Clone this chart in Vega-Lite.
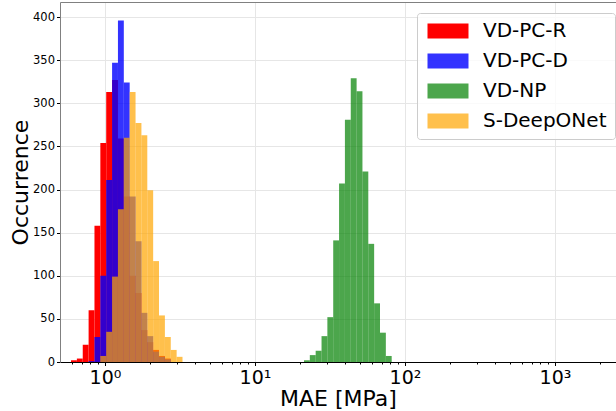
{
  "$schema": "https://vega.github.io/schema/vega-lite/v6.json",
  "width": 556,
  "height": 360,
  "autosize": {"type": "none"},
  "padding": {"left": 60, "top": 2, "right": 0, "bottom": 49},
  "config": {
    "view": {"stroke": null},
    "font": "DejaVu Sans",
    "axis": {
      "labelFont": "DejaVu Sans",
      "titleFont": "DejaVu Sans",
      "labelColor": "black",
      "titleColor": "black",
      "titleFontWeight": "normal",
      "tickColor": "black",
      "gridColor": "#e6e6e6",
      "gridWidth": 1
    },
    "legend": {
      "labelFont": "DejaVu Sans",
      "labelFontSize": 20,
      "labelColor": "black",
      "symbolType": "M-2.733,-1H2.733V1H-2.733Z",
      "symbolSize": 225,
      "symbolStrokeWidth": 0,
      "symbolOffset": 13,
      "labelOffset": 25,
      "padding": 8,
      "rowPadding": 10,
      "strokeColor": "#cccccc",
      "fillColor": "rgba(255,255,255,0.8)",
      "cornerRadius": 3
    }
  },
  "data": {
    "values": [
      {"s": "VD-PC-R", "lo": 0.5935, "hi": 0.6494, "n": 2},
      {"s": "VD-PC-R", "lo": 0.6494, "hi": 0.7106, "n": 4},
      {"s": "VD-PC-R", "lo": 0.7106, "hi": 0.7775, "n": 20},
      {"s": "VD-PC-R", "lo": 0.7775, "hi": 0.8508, "n": 60},
      {"s": "VD-PC-R", "lo": 0.8508, "hi": 0.9311, "n": 158},
      {"s": "VD-PC-R", "lo": 0.9311, "hi": 1.0189, "n": 254},
      {"s": "VD-PC-R", "lo": 1.0189, "hi": 1.1149, "n": 313},
      {"s": "VD-PC-R", "lo": 1.1149, "hi": 1.2200, "n": 327},
      {"s": "VD-PC-R", "lo": 1.2200, "hi": 1.3350, "n": 259},
      {"s": "VD-PC-R", "lo": 1.3350, "hi": 1.4608, "n": 192},
      {"s": "VD-PC-R", "lo": 1.4608, "hi": 1.5985, "n": 100},
      {"s": "VD-PC-R", "lo": 1.5985, "hi": 1.7492, "n": 80},
      {"s": "VD-PC-R", "lo": 1.7492, "hi": 1.9141, "n": 37},
      {"s": "VD-PC-R", "lo": 1.9141, "hi": 2.0946, "n": 23},
      {"s": "VD-PC-R", "lo": 2.0946, "hi": 2.2920, "n": 14},
      {"s": "VD-PC-R", "lo": 2.2920, "hi": 2.5081, "n": 7},
      {"s": "VD-PC-R", "lo": 2.5081, "hi": 2.7445, "n": 4},
      {"s": "VD-PC-D", "lo": 0.7775, "hi": 0.8508, "n": 1},
      {"s": "VD-PC-D", "lo": 0.8508, "hi": 0.9311, "n": 29},
      {"s": "VD-PC-D", "lo": 0.9311, "hi": 1.0189, "n": 100},
      {"s": "VD-PC-D", "lo": 1.0189, "hi": 1.1149, "n": 211},
      {"s": "VD-PC-D", "lo": 1.1149, "hi": 1.2200, "n": 347},
      {"s": "VD-PC-D", "lo": 1.2200, "hi": 1.3350, "n": 396},
      {"s": "VD-PC-D", "lo": 1.3350, "hi": 1.4608, "n": 324},
      {"s": "VD-PC-D", "lo": 1.4608, "hi": 1.5985, "n": 192},
      {"s": "VD-PC-D", "lo": 1.5985, "hi": 1.7492, "n": 140},
      {"s": "VD-PC-D", "lo": 1.7492, "hi": 1.9141, "n": 57},
      {"s": "VD-PC-D", "lo": 1.9141, "hi": 2.0946, "n": 30},
      {"s": "VD-PC-D", "lo": 2.0946, "hi": 2.2920, "n": 12},
      {"s": "VD-PC-D", "lo": 2.2920, "hi": 2.5081, "n": 6},
      {"s": "VD-PC-D", "lo": 2.5081, "hi": 2.7445, "n": 3},
      {"s": "VD-NP", "lo": 21.21, "hi": 23.20, "n": 2},
      {"s": "VD-NP", "lo": 23.20, "hi": 25.38, "n": 8},
      {"s": "VD-NP", "lo": 25.38, "hi": 27.77, "n": 13},
      {"s": "VD-NP", "lo": 27.77, "hi": 30.37, "n": 30},
      {"s": "VD-NP", "lo": 30.37, "hi": 33.22, "n": 52},
      {"s": "VD-NP", "lo": 33.22, "hi": 36.34, "n": 141},
      {"s": "VD-NP", "lo": 36.34, "hi": 39.76, "n": 207},
      {"s": "VD-NP", "lo": 39.76, "hi": 43.49, "n": 281},
      {"s": "VD-NP", "lo": 43.49, "hi": 47.58, "n": 329},
      {"s": "VD-NP", "lo": 47.58, "hi": 52.04, "n": 314},
      {"s": "VD-NP", "lo": 52.04, "hi": 56.93, "n": 221},
      {"s": "VD-NP", "lo": 56.93, "hi": 62.28, "n": 137},
      {"s": "VD-NP", "lo": 62.28, "hi": 68.13, "n": 68},
      {"s": "VD-NP", "lo": 68.13, "hi": 74.53, "n": 34},
      {"s": "VD-NP", "lo": 74.53, "hi": 81.53, "n": 7},
      {"s": "S-DeepONet", "lo": 0.9311, "hi": 1.0189, "n": 7},
      {"s": "S-DeepONet", "lo": 1.0189, "hi": 1.1149, "n": 35},
      {"s": "S-DeepONet", "lo": 1.1149, "hi": 1.2200, "n": 99},
      {"s": "S-DeepONet", "lo": 1.2200, "hi": 1.3350, "n": 177},
      {"s": "S-DeepONet", "lo": 1.3350, "hi": 1.4608, "n": 260},
      {"s": "S-DeepONet", "lo": 1.4608, "hi": 1.5985, "n": 313},
      {"s": "S-DeepONet", "lo": 1.5985, "hi": 1.7492, "n": 277},
      {"s": "S-DeepONet", "lo": 1.7492, "hi": 1.9141, "n": 263},
      {"s": "S-DeepONet", "lo": 1.9141, "hi": 2.0946, "n": 199},
      {"s": "S-DeepONet", "lo": 2.0946, "hi": 2.2920, "n": 117},
      {"s": "S-DeepONet", "lo": 2.2920, "hi": 2.5081, "n": 54},
      {"s": "S-DeepONet", "lo": 2.5081, "hi": 2.7445, "n": 29},
      {"s": "S-DeepONet", "lo": 2.7445, "hi": 3.0032, "n": 14},
      {"s": "S-DeepONet", "lo": 3.0032, "hi": 3.2863, "n": 6}
    ]
  },
  "resolve": {"axis": {"x": "independent"}},
  "layer": [
    {
      "mark": {"type": "bar"},
      "encoding": {
        "x": {
          "field": "lo",
          "type": "quantitative",
          "scale": {"type": "log", "domain": [0.5012, 2551], "nice": false},
          "axis": {
            "orient": "bottom",
            "values": [1, 10, 100, 1000],
            "labelExpr": "datum.value < 5 ? '10⁰' : datum.value < 50 ? '10¹' : datum.value < 500 ? '10²' : '10³'",
            "labelFontSize": 19,
            "labelPadding": 3,
            "tickSize": 3.5,
            "domainColor": "black",
            "grid": true,
            "title": "MAE [MPa]",
            "titleFontSize": 22,
            "titlePadding": 1
          }
        },
        "x2": {"field": "hi"},
        "y": {
          "field": "n",
          "type": "quantitative",
          "stack": null,
          "scale": {"domain": [0, 417.4], "nice": false},
          "axis": {
            "orient": "left",
            "values": [0, 50, 100, 150, 200, 250, 300, 350, 400],
            "title": "Occurrence",
            "titleFontSize": 22,
            "labelFontSize": 11.5,
            "labelPadding": 2,
            "tickSize": 3.5,
            "domainColor": "#808080",
            "grid": true,
            "titlePadding": 0
          }
        },
        "y2": {"datum": 0},
        "color": {
          "field": "s",
          "type": "nominal",
          "sort": null,
          "scale": {
            "domain": ["VD-PC-R", "VD-PC-D", "VD-NP", "S-DeepONet"],
            "range": ["#ff0000", "rgba(0,0,255,0.8)", "rgba(0,128,0,0.7)", "rgba(255,165,0,0.7)"]
          },
          "legend": {"title": null, "orient": "none", "legendX": 357, "legendY": 11}
        }
      }
    },
    {
      "mark": {"type": "bar", "opacity": 0},
      "encoding": {
        "x": {
          "field": "lo",
          "type": "quantitative",
          "axis": {
            "orient": "bottom",
            "values": [0.6, 0.7, 0.8, 0.9, 2, 3, 4, 5, 6, 7, 8, 9, 20, 30, 40, 50, 60, 70, 80, 90, 200, 300, 400, 500, 600, 700, 800, 900, 2000],
            "labels": false,
            "grid": false,
            "domain": false,
            "tickSize": 2,
            "title": null
          }
        },
        "x2": {"field": "hi"},
        "y": {
          "field": "n",
          "type": "quantitative",
          "stack": null,
          "axis": {
            "orient": "left",
            "values": [0, 50, 100, 150, 200, 250, 300, 350, 400],
            "title": "Occurrence",
            "titleFontSize": 22,
            "labelFontSize": 11.5,
            "labelPadding": 2,
            "tickSize": 3.5,
            "domainColor": "#808080",
            "grid": true,
            "titlePadding": 0
          }
        },
        "y2": {"datum": 0}
      }
    },
    {
      "mark": {"type": "bar", "opacity": 0},
      "encoding": {
        "x": {
          "field": "lo",
          "type": "quantitative",
          "axis": {
            "orient": "top",
            "values": [],
            "labels": false,
            "ticks": false,
            "grid": false,
            "domain": true,
            "domainColor": "#808080",
            "title": null
          }
        },
        "x2": {"field": "hi"},
        "y": {
          "field": "n",
          "type": "quantitative",
          "stack": null,
          "axis": {
            "orient": "left",
            "values": [0, 50, 100, 150, 200, 250, 300, 350, 400],
            "title": "Occurrence",
            "titleFontSize": 22,
            "labelFontSize": 11.5,
            "labelPadding": 2,
            "tickSize": 3.5,
            "domainColor": "#808080",
            "grid": true,
            "titlePadding": 0
          }
        },
        "y2": {"datum": 0}
      }
    }
  ]
}
